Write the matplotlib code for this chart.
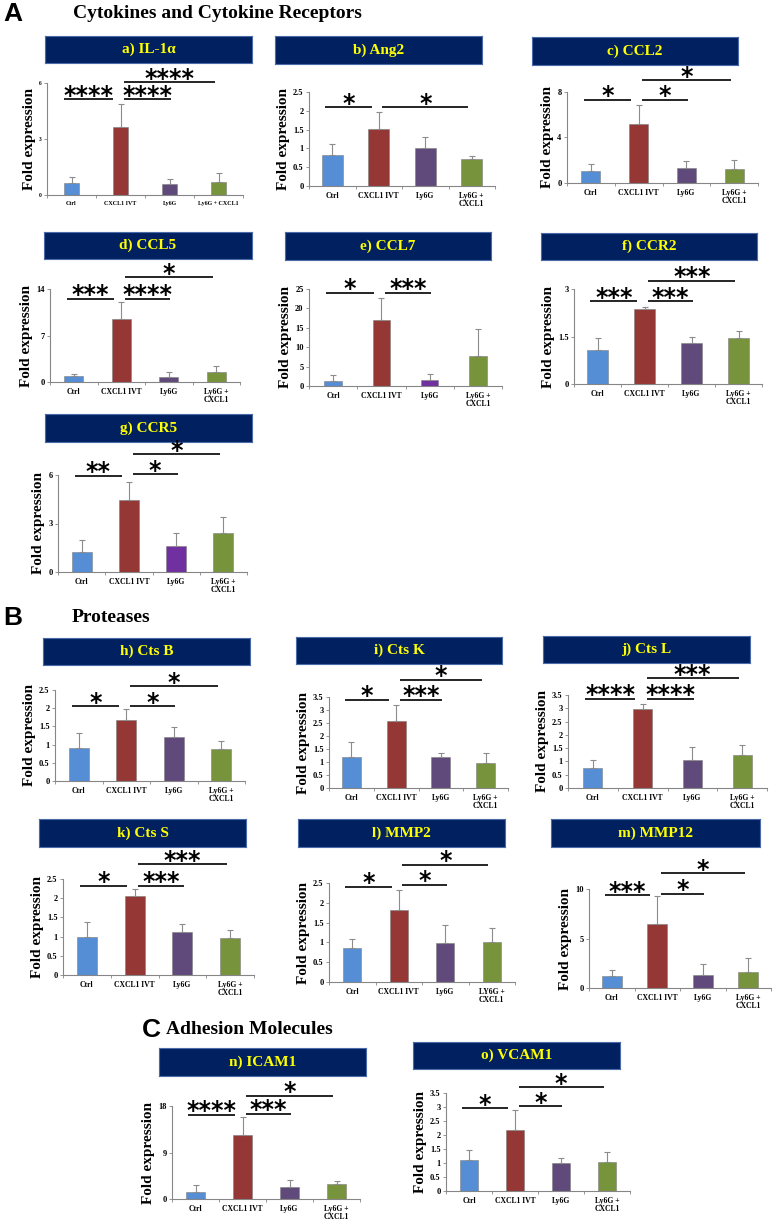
import matplotlib
matplotlib.use("Agg")
import matplotlib.pyplot as plt
from matplotlib.ticker import FixedLocator
import numpy as np

# ---- data -------------------------------------------------------------
groups = ["Ctrl", "CXCL1 IVT", "Ly6G", "Ly6G +\nCXCL1"]
groups_a = ["Ctrl", "CXCL1 IVT", "Ly6G", "Ly6G + CXCL1"]
groups_l = ["Ctrl", "CXCL1 IVT", "Ly6G", "LY6G +\nCXCL1"]

titles = ["a) IL-1\u03b1", "b) Ang2", "c) CCL2", "d) CCL5", "e) CCL7", "f) CCR2",
          "g) CCR5", "h) Cts B", "i) Cts K", "j) Cts L", "k) Cts S", "l) MMP2",
          "m) MMP12", "n) ICAM1", "o) VCAM1"]

il1a_mean = [0.64, 3.64, 0.60, 0.70]
il1a_err = [0.32, 1.26, 0.25, 0.48]
ang2_mean = [0.82, 1.52, 1.01, 0.72]
ang2_err = [0.30, 0.45, 0.29, 0.08]
ccl2_mean = [1.05, 5.19, 1.32, 1.23]
ccl2_err = [0.62, 1.67, 0.61, 0.79]
ccl5_mean = [0.95, 9.44, 0.80, 1.55]
ccl5_err = [0.21, 2.66, 0.66, 0.91]
ccl7_mean = [1.2, 16.9, 1.6, 7.8]
ccl7_err = [1.6, 5.7, 1.4, 6.9]
ccr2_mean = [1.07, 2.36, 1.29, 1.46]
ccr2_err = [0.37, 0.06, 0.18, 0.22]
ccr5_mean = [1.22, 4.43, 1.61, 2.40]
ccr5_err = [0.79, 1.14, 0.79, 0.99]
ctsb_mean = [0.90, 1.68, 1.22, 0.88]
ctsb_err = [0.41, 0.30, 0.25, 0.21]
ctsk_mean = [1.19, 2.56, 1.21, 0.98]
ctsk_err = [0.57, 0.64, 0.12, 0.35]
ctsl_mean = [0.74, 2.97, 1.06, 1.24]
ctsl_err = [0.31, 0.18, 0.48, 0.38]
ctss_mean = [1.00, 2.07, 1.13, 0.97]
ctss_err = [0.39, 0.16, 0.20, 0.21]
mmp2_mean = [0.87, 1.81, 0.98, 1.01]
mmp2_err = [0.22, 0.52, 0.47, 0.36]
mmp12_mean = [1.23, 6.49, 1.30, 1.58]
mmp12_err = [0.63, 2.81, 1.16, 1.40]
icam1_mean = [1.35, 12.4, 2.38, 2.96]
icam1_err = [1.35, 3.4, 1.28, 0.44]
vcam1_mean = [1.10, 2.19, 1.00, 1.04]
vcam1_err = [0.35, 0.71, 0.17, 0.34]

y_ticks = [[0, 3, 6], [0, 0.5, 1, 1.5, 2, 2.5], [0, 4, 8], [0, 7, 14],
           [0, 5, 10, 15, 20, 25], [0, 1.5, 3], [0, 3, 6],
           [0, 0.5, 1, 1.5, 2, 2.5], [0, 0.5, 1, 1.5, 2, 2.5, 3, 3.5],
           [0, 0.5, 1, 1.5, 2, 2.5, 3, 3.5], [0, 0.5, 1, 1.5, 2, 2.5],
           [0, 0.5, 1, 1.5, 2, 2.5], [0, 5, 10], [0, 9, 18],
           [0, 0.5, 1, 1.5, 2, 2.5, 3, 3.5]]

# significance: (group i, group j, stars)
sig = [
    [(0, 1, "****"), (1, 2, "****"), (1, 3, "****")],
    [(0, 1, "*"), (1, 3, "*")],
    [(0, 1, "*"), (1, 2, "*"), (1, 3, "*")],
    [(0, 1, "***"), (1, 2, "****"), (1, 3, "*")],
    [(0, 1, "*"), (1, 2, "***")],
    [(0, 1, "***"), (1, 2, "***"), (1, 3, "***")],
    [(0, 1, "**"), (1, 2, "*"), (1, 3, "*")],
    [(0, 1, "*"), (1, 2, "*"), (1, 3, "*")],
    [(0, 1, "*"), (1, 2, "***"), (1, 3, "*")],
    [(0, 1, "****"), (1, 2, "****"), (1, 3, "***")],
    [(0, 1, "*"), (1, 2, "***"), (1, 3, "***")],
    [(0, 1, "*"), (1, 2, "*"), (1, 3, "*")],
    [(0, 1, "***"), (1, 2, "*"), (1, 3, "*")],
    [(0, 1, "****"), (1, 2, "***"), (1, 3, "*")],
    [(0, 1, "*"), (1, 2, "*"), (1, 3, "*")],
]

means = [il1a_mean, ang2_mean, ccl2_mean, ccl5_mean, ccl7_mean, ccr2_mean,
         ccr5_mean, ctsb_mean, ctsk_mean, ctsl_mean, ctss_mean, mmp2_mean,
         mmp12_mean, icam1_mean, vcam1_mean]
errs = [il1a_err, ang2_err, ccl2_err, ccl5_err, ccl7_err, ccr2_err,
        ccr5_err, ctsb_err, ctsk_err, ctsl_err, ctss_err, mmp2_err,
        mmp12_err, icam1_err, vcam1_err]

# ---- layout (pixels) ---------------------------------------------------
axes_px = [(47, 83, 243, 195), (309, 92, 495, 186), (567, 92, 758, 183),
           (50, 289, 240, 382), (309, 289, 502, 386), (574, 289, 762, 384),
           (58, 475, 247, 572),
           (55, 690, 245, 781), (329, 697, 508, 788), (568, 695, 767, 788),
           (63, 879, 254, 975), (329, 883, 515, 982), (589, 889, 771, 988),
           (172, 1106, 360, 1199), (446, 1093, 630, 1191)]
header_px = [(45, 36, 252, 63), (275, 36, 482, 64), (532, 37, 738, 65),
             (44, 232, 252, 259), (285, 232, 491, 260), (541, 233, 757, 260),
             (45, 414, 252, 442),
             (43, 638, 250, 665), (296, 637, 502, 664), (543, 636, 750, 663),
             (39, 819, 246, 847), (298, 819, 505, 847), (551, 819, 760, 847),
             (159, 1048, 366, 1076), (413, 1042, 620, 1069)]
bar_w = [0.32, 0.45, 0.40, 0.40, 0.36, 0.45, 0.42, 0.42, 0.42, 0.38,
         0.42, 0.39, 0.44, 0.41, 0.39]
sig_y = [(5.14, 5.14, 6.05), (2.1, None, 2.1), (7.3, 7.3, 9.05),
         (12.5, 12.5, 15.8), (24, 24, None), (2.62, 2.62, 3.26),
         (5.94, 6.04, 7.28), (2.05, 2.05, 2.6), (3.4, 3.4, 4.17),
         (3.35, 3.35, 4.13), (2.32, 2.32, 2.88), (2.4, 2.46, 2.96),
         (9.37, 9.54, 11.58), (16.26, 16.46, 20.0), (2.96, 3.02, 3.7)]

W, H = 772, 1226
NAVY = "#002060"
SERIF = "Liberation Serif"
colors = ["#558ED5", "#953735", "#604A7B", "#77933C"]
bright_purple = "#7030A0"

fig = plt.figure(figsize=(W / 100, H / 100), dpi=100)


def px_axes(x0, y0, x1, y1):
    return fig.add_axes([x0 / W, 1 - y1 / H, (x1 - x0) / W, (y1 - y0) / H])


def section(letter, text, x_letter, x_text, y):
    fig.text(x_letter / W, 1 - y / H, letter, fontsize=19, fontweight="bold",
             family="Liberation Sans", va="center", ha="left")
    fig.text(x_text / W, 1 - y / H, text, fontsize=14, fontweight="bold",
             family=SERIF, va="center", ha="left")


section("A", "Cytokines and Cytokine Receptors", 3, 73, 14)
section("B", "Proteases", 3, 72, 618)
section("C", "Adhesion Molecules", 142, 166, 1030)

for k in range(15):
    hax = px_axes(*header_px[k])
    hax.set_facecolor(NAVY)
    hax.set_xticks([])
    hax.set_yticks([])
    for s in hax.spines.values():
        s.set_color("#4a6aa8")
        s.set_linewidth(0.8)
    hax.text(0.5, 0.5, titles[k], color="#FFFF00", fontsize=11,
             fontweight="bold", family=SERIF, ha="center", va="center",
             transform=hax.transAxes)

    ax = px_axes(*axes_px[k])
    x = np.arange(4)
    cols = list(colors)
    if k in (4, 6):
        cols[2] = bright_purple
    ax.bar(x, means[k], bar_w[k], color=cols, edgecolor="#7f7f7f",
           linewidth=0.4, zorder=2)
    ax.errorbar(x, means[k], yerr=[np.zeros(4), errs[k]], fmt="none",
                ecolor="#8c8c8c", elinewidth=0.8, capsize=2, capthick=0.8,
                zorder=3)
    ticks = y_ticks[k]
    ax.set_xlim(-0.5, 3.5)
    ax.set_ylim(0, ticks[-1])
    small = k == 0
    ax.set_yticks(ticks)
    ax.set_yticklabels(["{:g}".format(t) for t in ticks], family=SERIF,
                       fontweight="bold", fontsize=4 if small else 6)
    ax.set_xticks(x)
    labels = groups_a if k == 0 else groups_l if k == 11 else groups
    ax.set_xticklabels(labels, family=SERIF, fontweight="bold",
                       fontsize=4.3 if small else 5.5, linespacing=1.1)
    ax.tick_params(axis="x", length=0, pad=4)
    ax.tick_params(axis="y", length=2, width=0.6, color="#868686", pad=2)
    ax.xaxis.set_minor_locator(FixedLocator([-0.5, 0.5, 1.5, 2.5, 3.5]))
    ax.tick_params(axis="x", which="minor", length=2.5, width=0.6,
                   color="#868686")
    for side in ("top", "right"):
        ax.spines[side].set_visible(False)
    for side in ("left", "bottom"):
        ax.spines[side].set_color("#868686")
        ax.spines[side].set_linewidth(0.8)
    ax.set_ylabel("Fold expression", family=SERIF, fontweight="bold",
                  fontsize=11, labelpad=2)

    for (i, j, stars), y in zip(sig[k], [v for v in sig_y[k] if v is not None]):
        xs = i - 0.15 if i == 0 else i + 0.08
        xe = j - 0.15 if j == 1 else (j + 0.03 if j == 2 else j - 0.07)
        ax.plot([xs, xe], [y, y], color="black", lw=1.2, clip_on=False,
                solid_capstyle="butt")
        ax.annotate(stars, ((xs + xe) / 2, y), xytext=(0, -2.5),
                    textcoords="offset points", ha="center", va="baseline",
                    fontsize=17, fontweight="bold", family="DejaVu Sans",
                    annotation_clip=False)

fig.savefig("out.png", dpi=100)
